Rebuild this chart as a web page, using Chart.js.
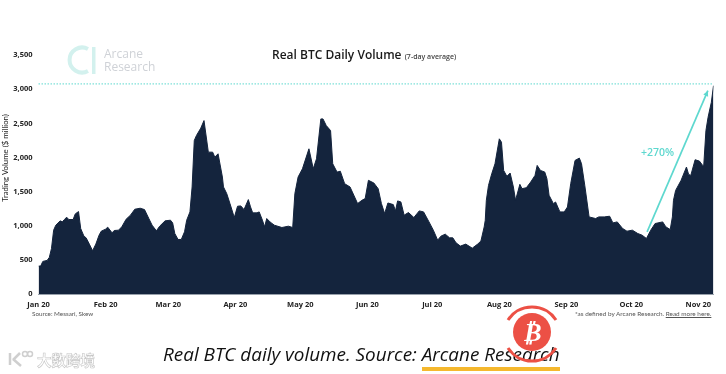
<!DOCTYPE html>
<html>
<head>
<meta charset="utf-8">
<script src="https://cdn.jsdelivr.net/npm/chart.js@4"></script>
<style>
  html, body { margin: 0; padding: 0; background: #fff; }
  #wrap { position: relative; width: 726px; height: 374px; overflow: hidden; }
  #volumeChart { position: absolute; left: 0; top: 0; }
  .txt { position: absolute; white-space: nowrap; }
  svg { position: absolute; left: 0; top: 0; }
</style>
</head>
<body>
<div id="wrap">
  <canvas id="volumeChart" width="726" height="374"></canvas>

  <svg width="726" height="374">
    <!-- Arcane logo -->
    <path d="M88 49 A12.5 12.5 0 1 0 88 71" fill="none" stroke="#d3f1ee" stroke-width="4"/>
    <rect x="92" y="47" width="3.5" height="27" fill="#d3f1ee"/>
    <!-- watermark icon -->
    <path d="M10 353 V365 M13 360 L20 353 M13 359 L21 366" stroke="#cfcfcf" stroke-width="2.5" fill="none"/>
    <circle cx="25" cy="354" r="2.5" fill="none" stroke="#cfcfcf" stroke-width="1.5"/>
    <circle cx="30" cy="354" r="2.5" fill="none" stroke="#cfcfcf" stroke-width="1.5"/>
    <!-- underline under the source -->
    <rect x="422" y="367" width="138" height="4" fill="#f5b82e"/>
  </svg>

  <div class="txt" style="left:104px;top:47px;font:12px/13px 'Open Sans';color:#cfd2d7;">Arcane<br>Research</div>
  <div class="txt" style="left:272px;top:46px;font:600 12px 'Open Sans';color:#1a1a1a;">Real BTC Daily Volume <span style="font-size:7px;color:#444;">(7-day average)</span></div>
  <div class="txt" id="yTitle" style="left:5px;top:158px;font:7.8px 'Lato';color:#222;transform:translate(-50%,-50%) rotate(-90deg);transform-origin:center;">Trading Volume ($ million)</div>
  <div class="txt" style="left:32px;top:310px;font:6.3px 'Lato';color:#555;">Source: Messari, Skew</div>
  <div class="txt" style="left:575px;top:310px;font:6.4px 'Lato';color:#555;">*as defined by Arcane Research. <u>Read more here.</u></div>
  <div class="txt" style="left:163px;top:341px;font:italic 18.9px 'Open Sans';color:#111;">Real BTC daily volume. Source: Arcane Research</div>
  <div class="txt" style="left:37px;top:349px;font:700 14.5px 'Noto Sans CJK SC';color:#fff;-webkit-text-stroke:0.6px #c6c6c6;">大数跨境</div>

  <svg width="726" height="374">
    <!-- red coin badge -->
    <path d="M508 320 A28.6 28.6 0 0 1 556 320" fill="none" stroke="#ec5045" stroke-width="3"/>
    <path d="M508 348 A28.6 28.6 0 0 0 556 348" fill="none" stroke="#ec5045" stroke-width="3"/>
    <circle cx="532" cy="332" r="19" fill="#ec5045"/>
    <text x="532" y="341" text-anchor="middle" font-family="DejaVu Sans" font-weight="700" font-style="italic" font-size="26" fill="#fff">₿</text>
  </svg>
</div>

<script>
// days counted from 1 Jan 2020
const days = [0,1,2,4,5,6,7,8,10,11,12,13,14,16,17,18.5,19.5,21,22,23.5,25,26.5,28,29,31,32,34,35,37,38.5,40.5,42.5,44.5,47,49,51,52.5,54.5,56,58.5,61,62,63,64.5,66,67.5,68.5,70,71,72,73,75,76.5,78.5,80.5,81.5,83,85,85.5,87,88.5,90.5,92,93.5,95,97,98,99,101,102,103.5,104.5,105.5,107,109,112.5,115.5,117.5,118.5,120,122,125,127,128.5,130.5,131.5,133,135,136,138,139.5,141.5,144,147.5,149.5,151,152.5,155,157,158.5,160,161.5,164,165,166,167.5,169,171,173.5,176,178,180.5,182.5,184.5,186,188,190,191.5,193,195,197.5,200.5,203,204.5,206,206.5,207,208,209.5,211,213,214,215,216.5,218,219.5,220.5,222.5,223.5,225.5,227.5,229.5,230.5,232,234,235,236,238,239,241,243,244.5,246,248,250,251,252.5,254.5,257.5,259,261.5,264,265.5,267.5,270,272,274.5,277,279,281,283,285,288.5,290,292,293,293.5,294.5,297,299.5,300.5,301.5,303.5,305.5,307,307.5,308.5,309.5,311,312];
const volumes = [413,413,481,496,540,670,938,1011,1074,1060,1094,1128,1094,1094,1176,1210,962,850,826,734,637,734,865,923,953,982,899,933,938,987,1098,1157,1244,1259,1239,1108,1011,928,996,1074,1084,1045,889,802,802,914,1084,1205,1570,2249,2322,2430,2541,2079,2079,2006,2055,1715,1570,1473,1327,1123,1288,1293,1239,1385,1278,1191,1191,1205,1084,987,1108,1059,1011,977,996,977,1473,1716,1836,2128,1836,1982,2565,2565,2468,2395,1909,1787,1800,1618,1570,1327,1375,1400,1667,1628,1545,1327,1181,1336,1312,1220,1366,1351,1157,1196,1123,1220,1205,1059,938,792,850,880,826,826,753,705,734,675,734,780,986,1083,1375,1593,1763,1909,2274,2225,1812,1725,1773,1569,1375,1608,1545,1559,1642,1739,1885,1812,1788,1691,1448,1326,1350,1205,1205,1277,1618,1958,1992,1909,1593,1132,1108,1132,1132,1142,1044,1059,962,923,938,889,865,816,938,1035,1059,986,947,1132,1375,1520,1666,1861,1754,1739,1968,1948,1885,1885,2395,2590,2808,3051];

const monthDays = [0,31,60,91,121,152,182,213,244,274,305];
const monthLabels = ['Jan 20','Feb 20','Mar 20','Apr 20','May 20','Jun 20','Jul 20','Aug 20','Sep 20','Oct 20','Nov 20'];

const highLine = 3077;
const arrowFrom = [281.3, 912];
const arrowTo = [309.4, 2978];

const teal = '#5ed8cf';

// dotted high line, +270% arrow and its label
const annotations = {
    id: 'annotations',
    afterDatasetsDraw(chart) {
        const { ctx, scales: { x, y } } = chart;
        ctx.save();
        ctx.strokeStyle = teal;
        ctx.lineWidth = 1;
        ctx.setLineDash([1.5, 1.5]);
        ctx.beginPath();
        ctx.moveTo(x.getPixelForValue(0), y.getPixelForValue(highLine));
        ctx.lineTo(x.getPixelForValue(312), y.getPixelForValue(highLine));
        ctx.stroke();
        ctx.setLineDash([]);

        const x1 = x.getPixelForValue(arrowFrom[0]), y1 = y.getPixelForValue(arrowFrom[1]);
        const x2 = x.getPixelForValue(arrowTo[0]), y2 = y.getPixelForValue(arrowTo[1]);
        ctx.lineWidth = 1.7;
        ctx.beginPath();
        ctx.moveTo(x1, y1);
        ctx.lineTo(x2, y2);
        ctx.stroke();
        const a = Math.atan2(y2 - y1, x2 - x1);
        ctx.fillStyle = teal;
        ctx.beginPath();
        ctx.moveTo(x2, y2);
        ctx.lineTo(x2 - 6 * Math.cos(a - 0.45), y2 - 6 * Math.sin(a - 0.45));
        ctx.lineTo(x2 - 6 * Math.cos(a + 0.45), y2 - 6 * Math.sin(a + 0.45));
        ctx.closePath();
        ctx.fill();

        ctx.font = '600 10.5px "Open Sans"';
        ctx.textAlign = 'left';
        ctx.textBaseline = 'middle';
        ctx.fillText('+270%', 641, 153);
        ctx.restore();
    }
};

new Chart(document.getElementById('volumeChart').getContext('2d'), {
    type: 'line',
    data: {
        datasets: [{
            data: days.map((d, i) => ({ x: d, y: volumes[i] })),
            fill: 'origin',
            backgroundColor: '#14243d',
            borderColor: '#14243d',
            borderWidth: 1,
            pointRadius: 0,
            tension: 0
        }]
    },
    options: {
        responsive: false,
        animation: false,
        layout: { padding: { top: 55, right: 12.5, left: 0, bottom: 0 } },
        plugins: { legend: { display: false }, tooltip: { enabled: false } },
        scales: {
            x: {
                type: 'linear',
                min: 0,
                max: 312,
                grid: { display: false, drawTicks: false },
                border: { color: '#9aa3ad' },
                afterBuildTicks: (axis) => { axis.ticks = monthDays.map(v => ({ value: v })); },
                afterFit: (axis) => { axis.height = 79.7; },
                ticks: {
                    autoSkip: false,
                    maxRotation: 0,
                    padding: 6,
                    font: { family: 'Open Sans', size: 7.5, weight: '700' },
                    color: '#222',
                    callback: (v) => monthLabels[monthDays.indexOf(v)]
                }
            },
            y: {
                min: 0,
                max: 3500,
                grid: { display: false, drawTicks: false },
                border: { display: false },
                afterFit: (axis) => { axis.width = 38.5; },
                ticks: {
                    stepSize: 500,
                    padding: 6,
                    font: { family: 'Open Sans', size: 7.5, weight: '700' },
                    color: '#222',
                    callback: (v) => v.toLocaleString('en-US')
                }
            }
        }
    },
    plugins: [annotations]
});
</script>
</body>
</html>
